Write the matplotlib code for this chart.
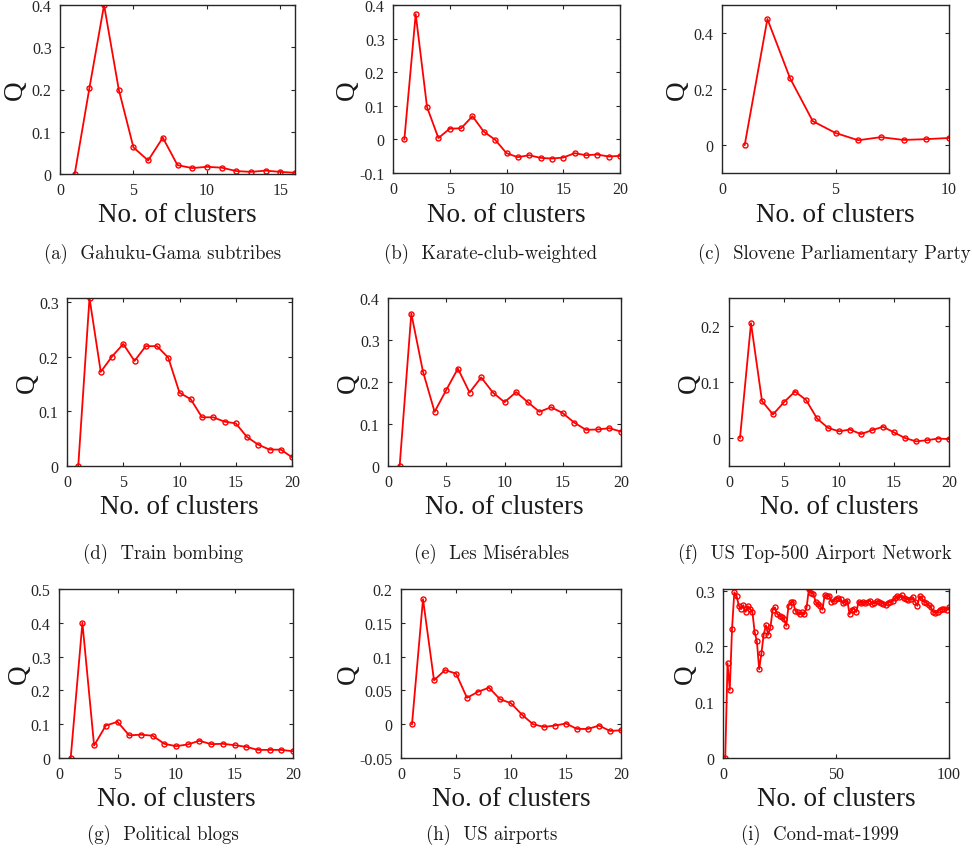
import numpy as np
import matplotlib
matplotlib.use('Agg')
import matplotlib.pyplot as plt
from matplotlib.ticker import FuncFormatter

# Modularity Q vs. number of clusters, one list per network
q_gahuku = [0, 0.203, 0.400, 0.200, 0.063, 0.032, 0.086, 0.021, 0.014, 0.017,
            0.015, 0.007, 0.005, 0.008, 0.005, 0.003]
q_karate = [0, 0.373, 0.096, 0.004, 0.032, 0.033, 0.069, 0.023, -0.001, -0.041,
            -0.053, -0.047, -0.055, -0.057, -0.054, -0.041, -0.047, -0.045, -0.051, -0.049]
q_slovene = [0, 0.450, 0.238, 0.085, 0.043, 0.017, 0.028, 0.018, 0.021, 0.025]
q_train = [0, 0.307, 0.172, 0.200, 0.223, 0.192, 0.219, 0.219, 0.198, 0.134,
           0.122, 0.089, 0.089, 0.081, 0.078, 0.053, 0.039, 0.030, 0.030, 0.016]
q_lesmis = [0, 0.363, 0.225, 0.129, 0.181, 0.232, 0.175, 0.211, 0.175, 0.152,
            0.176, 0.152, 0.129, 0.140, 0.126, 0.103, 0.086, 0.087, 0.090, 0.082]
q_top500 = [0, 0.205, 0.066, 0.042, 0.064, 0.083, 0.068, 0.035, 0.018, 0.012,
            0.015, 0.007, 0.014, 0.020, 0.010, 0.000, -0.006, -0.004, -0.001, -0.002]
q_blogs = [0, 0.400, 0.037, 0.096, 0.107, 0.067, 0.069, 0.066, 0.042, 0.035,
           0.040, 0.051, 0.041, 0.042, 0.038, 0.033, 0.024, 0.024, 0.024, 0.020]
q_usair = [0, 0.185, 0.065, 0.080, 0.075, 0.039, 0.048, 0.054, 0.037, 0.031,
           0.014, 0.000, -0.004, -0.002, 0.001, -0.007, -0.007, -0.002, -0.010, -0.009]
q_condmat = [0, 0.170, 0.122, 0.232, 0.297, 0.291, 0.273, 0.267, 0.274, 0.262,
             0.272, 0.267, 0.262, 0.226, 0.209, 0.159, 0.188, 0.221, 0.238, 0.221,
             0.235, 0.266, 0.270, 0.258, 0.255, 0.253, 0.249, 0.237, 0.273, 0.279,
             0.280, 0.264, 0.261, 0.258, 0.261, 0.258, 0.270, 0.303, 0.296, 0.294,
             0.280, 0.276, 0.273, 0.266, 0.292, 0.291, 0.290, 0.280, 0.282, 0.285,
             0.286, 0.285, 0.278, 0.279, 0.282, 0.258, 0.266, 0.268, 0.262, 0.280,
             0.278, 0.279, 0.278, 0.280, 0.282, 0.276, 0.278, 0.281, 0.280, 0.278,
             0.276, 0.274, 0.278, 0.280, 0.281, 0.286, 0.290, 0.288, 0.292, 0.286,
             0.285, 0.284, 0.285, 0.288, 0.280, 0.273, 0.290, 0.286, 0.280, 0.278,
             0.274, 0.270, 0.262, 0.260, 0.262, 0.266, 0.267, 0.267, 0.266, 0.270]

captions = ['(a)  Gahuku-Gama subtribes', '(b)  Karate-club-weighted',
            '(c)  Slovene Parliamentary Party', '(d)  Train bombing',
            '(e)  Les Misérables', '(f)  US Top-500 Airport Network',
            '(g)  Political blogs', '(h)  US airports', '(i)  Cond-mat-1999']
series = [q_gahuku, q_karate, q_slovene, q_train, q_lesmis, q_top500,
          q_blogs, q_usair, q_condmat]

x_limits = [16, 20, 10, 20, 20, 20, 20, 20, 100]
x_ticks = [[0, 5, 10, 15], [0, 5, 10, 15, 20], [0, 5, 10], [0, 5, 10, 15, 20],
           [0, 5, 10, 15, 20], [0, 5, 10, 15, 20], [0, 5, 10, 15, 20],
           [0, 5, 10, 15, 20], [0, 50, 100]]
y_limits = [(0, 0.4), (-0.1, 0.4), (-0.1, 0.5), (0, 0.307), (0, 0.4),
            (-0.05, 0.25), (0, 0.5), (-0.05, 0.2), (0, 0.303)]
y_ticks = [[0, 0.1, 0.2, 0.3, 0.4], [-0.1, 0, 0.1, 0.2, 0.3, 0.4], [0, 0.2, 0.4],
           [0, 0.1, 0.2, 0.3], [0, 0.1, 0.2, 0.3, 0.4], [0, 0.1, 0.2],
           [0, 0.1, 0.2, 0.3, 0.4, 0.5], [-0.05, 0, 0.05, 0.1, 0.15, 0.2],
           [0, 0.1, 0.2, 0.3]]

# layout in pixels: axes boxes (left, right, top, bottom), Q label x, caption (x, y)
W, H = 972, 854
boxes = [(60, 295, 6, 175), (393, 620, 6, 174), (722, 949, 6, 174),
         (67, 292, 299, 467), (388, 621, 299, 467), (729, 949, 299, 467),
         (59, 293, 590, 759), (401, 621, 590, 759), (723, 949, 590, 759)]
q_x = [16, 348, 678, 28, 349, 690, 20, 349, 686]
cap_pos = [(163, 254), (491, 254), (834, 254), (163, 554), (492, 554), (815, 554),
           (163, 835), (492, 835), (820, 835)]

dark = '#262626'
fig = plt.figure(figsize=(W / 100, H / 100), dpi=100)

for i, q in enumerate(series):
    l, r, t, b = boxes[i]
    ax = fig.add_axes([l / W, 1 - b / H, (r - l) / W, (b - t) / H])
    n = np.arange(1, len(q) + 1)
    ax.plot(n, q, '-o', color='#ff0000', lw=1.3, ms=3.6, mew=1.0, mfc='none')
    ax.set_xlim(0, x_limits[i])
    ax.set_ylim(*y_limits[i])
    ax.set_xticks(x_ticks[i])
    ax.set_yticks(y_ticks[i])
    ax.yaxis.set_major_formatter(FuncFormatter(lambda v, p: f'{v:g}'))
    ax.tick_params(direction='in', top=True, right=True, length=3, width=0.8,
                   colors=dark, labelsize=11.5, pad=6)
    for lab in ax.get_xticklabels() + ax.get_yticklabels():
        lab.set_family('Liberation Serif')
    for s in ax.spines.values():
        s.set_color(dark)
        s.set_linewidth(1.0)
    ax.set_xlabel('No. of clusters', family='Liberation Serif', fontsize=19.5,
                  color='#1a1a1a', labelpad=3)
    ax.set_ylabel('Q', family='Liberation Serif', fontsize=19.5, color='#1a1a1a')
    # label anchor sits at the right edge of the rotated Q's box
    ax.yaxis.set_label_coords((q_x[i] + 12 - l) / (r - l), 0.5)
    cx, cy = cap_pos[i]
    fig.text(cx / W, 1 - cy / H, captions[i], ha='center', va='center',
             family=['cmr10', 'Liberation Serif'], fontsize=13.5, color='#1a1a1a')

fig.savefig('out.png', dpi=100)
